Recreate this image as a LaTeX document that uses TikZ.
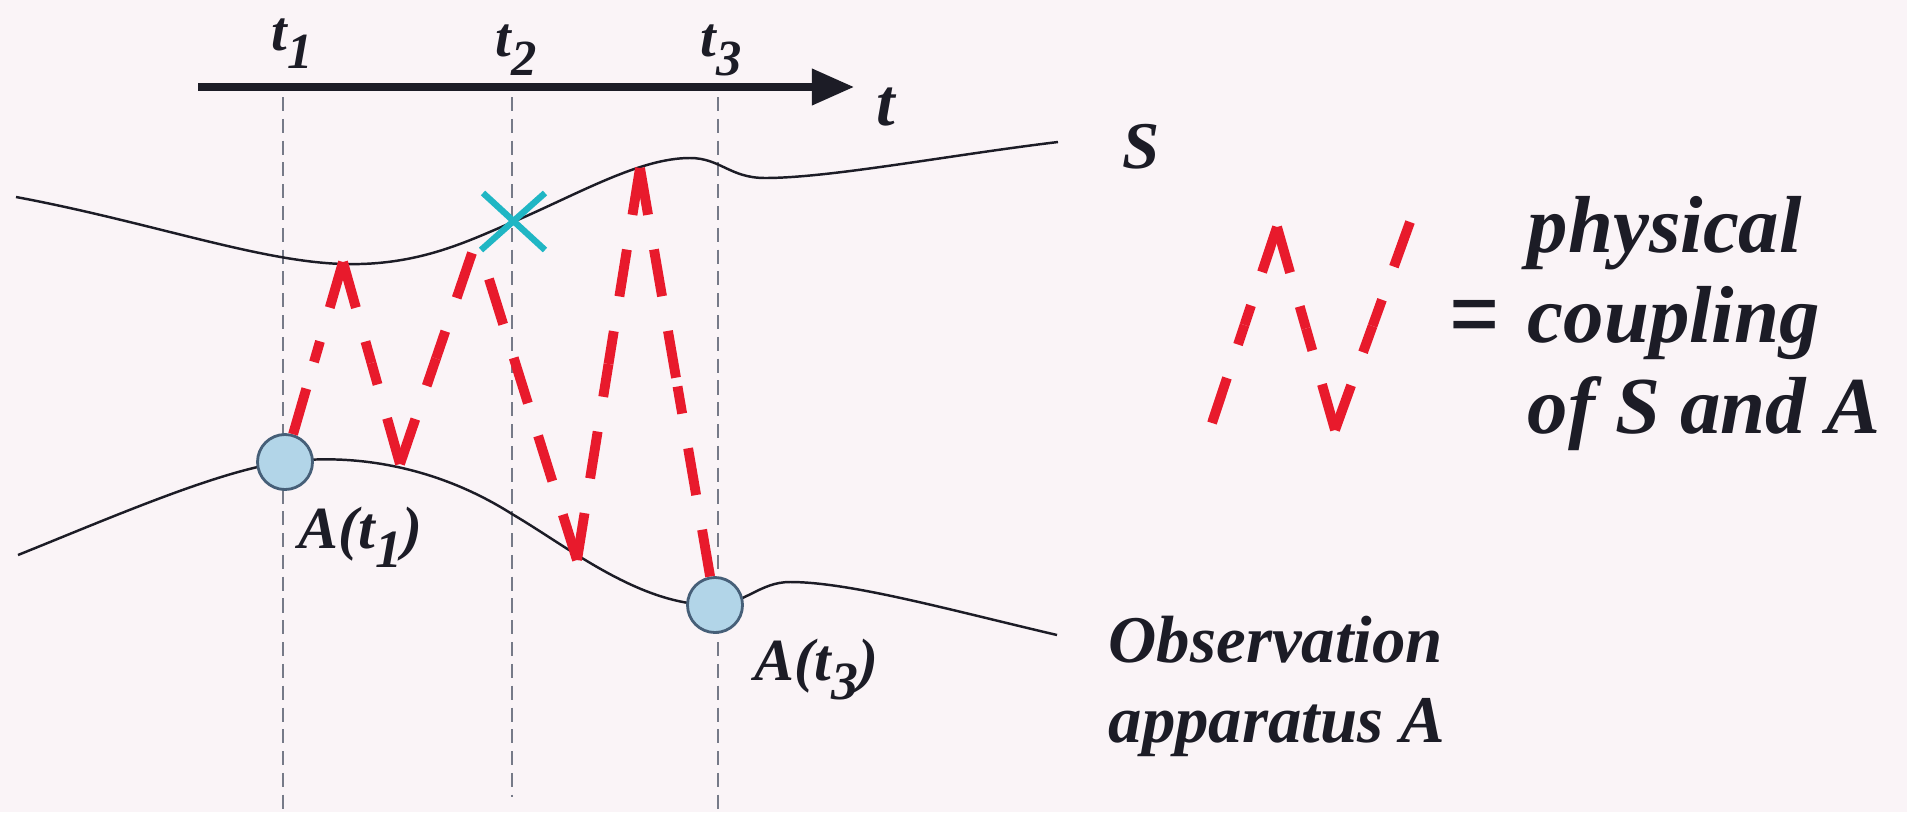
\documentclass[tikz,border=0pt]{standalone}
\usepackage{fontspec}
\setmainfont{Liberation Serif}[BoldFont={Liberation Serif Bold},
    ItalicFont={Liberation Serif Italic}, BoldItalicFont={Liberation Serif Bold Italic}]
\usetikzlibrary{arrows.meta,calc}

\definecolor{paper}{RGB}{250,244,247}
\definecolor{ink}{RGB}{28,28,38}
\definecolor{guidegray}{RGB}{118,122,136}
\definecolor{couplered}{RGB}{232,26,44}
\definecolor{markcyan}{RGB}{32,182,196}
\definecolor{dotblue}{RGB}{178,213,232}
\definecolor{dotrim}{RGB}{70,95,120}

% lowered, nearly full-size subscript as on the slide
\newcommand{\tsub}[1]{\raisebox{-0.32em}{\scalebox{0.9}{#1}}}

\tikzset{
    timeaxis/.style={ink, line width=2pt, -{Triangle[length=12pt, width=10pt]}},
    guide/.style={guidegray, line width=0.7pt, dash pattern=on 4pt off 2.2pt},
    worldline/.style={ink, line width=0.7pt},
    coupling/.style={couplered, line width=2.8pt, dash pattern=on 13.5pt off 10pt},
    readout/.style={circle, draw=dotrim, fill=dotblue, line width=0.8pt, minimum size=0.55cm, inner sep=0pt},
    xmark/.style={markcyan, line width=1.8pt},
    tlbl/.style={font=\fontsize{16}{19}\selectfont\bfseries\itshape, text=ink, inner sep=0pt},
    albl/.style={font=\fontsize{17}{20}\selectfont\bfseries\itshape, text=ink, inner sep=0pt},
    slbl/.style={font=\fontsize{19}{22}\selectfont\bfseries\itshape, text=ink, inner sep=0pt},
    legendtxt/.style={font=\fontsize{23}{26}\selectfont\bfseries\itshape, text=ink, inner sep=0pt},
}

\begin{document}
\begin{tikzpicture}[x=0.01cm, y=-0.01cm]
    \useasboundingbox (0,0) rectangle (1907,812);
    \fill[paper] (0,0) rectangle (1907,812);

    % Time axis
    \coordinate (tstart) at (198,87);
    \coordinate (tend) at (854,87);
    \draw[timeaxis] (tstart) -- (tend);
    \node[slbl, anchor=base west] (tlab) at (876,125) {t};
    \node[tlbl, anchor=base west] (t1) at (271,50) {t\tsub{1}};
    \node[tlbl, anchor=base west] (t2) at (495,57) {t\tsub{2}};
    \node[tlbl, anchor=base west] (t3) at (700,57) {t\tsub{3}};

    % Guide lines at t1, t2, t3
    \foreach \i/\x/\ylow in {1/283/812, 2/512/797, 3/718/812} {
        \coordinate (gtop\i) at (\x,97);
        \coordinate (gbot\i) at (\x,\ylow);
        \draw[guide] (gtop\i) -- (gbot\i);
    }

    % World line of the system S
    \draw[worldline] (16,197) .. controls (150,222) and (260,262) .. (344,264)
        .. controls (420,266) and (470,240) .. (513,222)
        .. controls (580,193) and (640,158) .. (690,158)
        .. controls (720,158) and (730,178) .. (765,178)
        .. controls (830,178) and (950,155) .. (1058,142);
    \node[slbl, anchor=base west] (slab) at (1122,168) {S};

    % World line of the apparatus A
    \draw[worldline] (18,555) .. controls (110,518) and (220,470) .. (285,462)
        .. controls (345,454) and (430,462) .. (512,514)
        .. controls (570,548) and (640,606) .. (715,605)
        .. controls (745,604) and (760,582) .. (790,582)
        .. controls (850,582) and (950,610) .. (1057,635);
    \node[slbl, anchor=base west] (obs1) at (1108,662) {Observation};
    \node[slbl, anchor=base west] (obs2) at (1108,742) {apparatus A};

    % Read-out points
    \node[readout] (A1) at (285,462) {};
    \node[readout] (A3) at (715,605) {};
    \node[albl, anchor=base west] (A1lab) at (298,548) {A(t\tsub{1})};
    \node[albl, anchor=base west] (A3lab) at (754,680) {A(t\tsub{3})};

    % Coupling zigzag, broken at the cross
    \coordinate (pk1) at (343,262);
    \coordinate (vl1) at (400,464);
    \coordinate (xlo) at (472,253);
    \coordinate (xhi) at (489,279);
    \coordinate (vl2) at (577,560);
    \coordinate (pk2) at (640,168);
    \foreach \a/\b in {A1/pk1, pk1/vl1, vl1/xlo, xhi/vl2, vl2/pk2, pk2/A3} {
        \draw[coupling] (\a) -- ($(\a)!0.5!(\b)$);
        \draw[coupling] (\b) -- ($(\b)!0.5!(\a)$);
    }

    % Cross on S at t2
    \coordinate (cross) at (513,221);
    \draw[xmark] ($(cross)+(-32,29)$) -- ($(cross)+(32,-28)$);
    \draw[xmark] ($(cross)+(-30,-28)$) -- ($(cross)+(32,29)$);

    % Legend
    \coordinate (lg1) at (1212,423);
    \coordinate (lg2) at (1277,227);
    \coordinate (lg3) at (1335,430);
    \coordinate (lg4) at (1410,222);
    \foreach \a/\b in {lg1/lg2, lg2/lg3, lg3/lg4} {
        \draw[coupling] (\a) -- ($(\a)!0.5!(\b)$);
        \draw[coupling] (\b) -- ($(\b)!0.5!(\a)$);
    }
    \node[font=\fontsize{23}{26}\selectfont\bfseries, text=ink, inner sep=0pt] (eq) at (1475,325) {\scalebox{1.1}[1.3]{=}};
    \node[legendtxt, anchor=base west] (lphys) at (1527,252) {physical};
    \node[legendtxt, anchor=base west] (lcoup) at (1527,342) {coupling};
    \node[legendtxt, anchor=base west] (lof) at (1527,433) {of S and A};
\end{tikzpicture}
\end{document}
